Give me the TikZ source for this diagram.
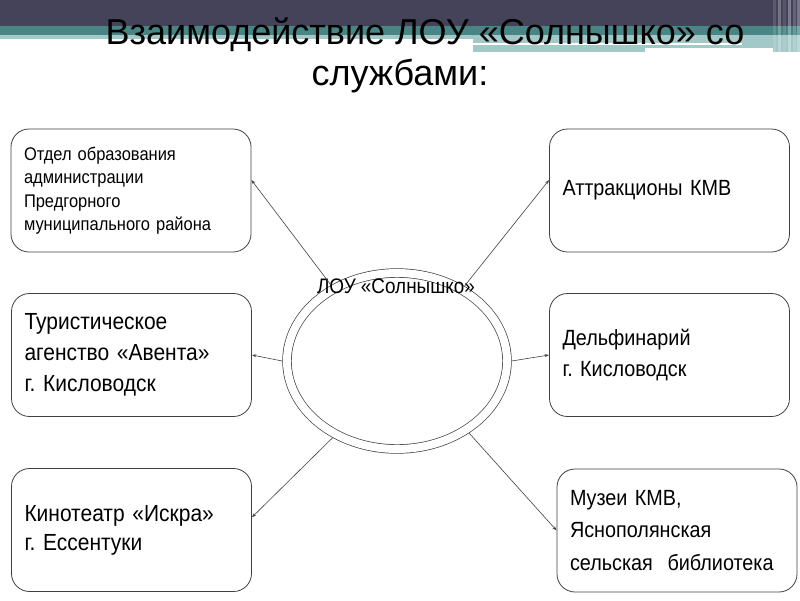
\documentclass[tikz,border=0pt]{standalone}
\usepackage{fontspec}
\setmainfont{Liberation Sans}
\newfontfamily\narrowsans{Liberation Sans}[FakeStretch=0.9]
\usepackage{tikz}
\usetikzlibrary{arrows.meta,shapes.geometric}

\definecolor{bandDark}{RGB}{68,67,90}
\definecolor{bandTeal}{RGB}{74,133,133}
\definecolor{bandLight}{RGB}{163,200,200}
\definecolor{lineGray}{RGB}{64,64,64}
\frenchspacing

\begin{document}
\begin{tikzpicture}[x=1pt,y=-1pt,
  every node/.style={text=black},
  unit/.style={draw=lineGray,line width=0.8pt,rounded corners=18pt,
    minimum height=123pt,text width=214pt,inner xsep=13pt,align=left,
    font=\narrowsans\fontsize{22}{31}\selectfont},
  link/.style={-{Stealth[length=4.5pt,width=3pt]},draw=lineGray,line width=0.6pt}]
  \useasboundingbox (0,0) rectangle (800,600);
  % slide header bands
  \fill[bandDark] (0,0) rectangle (800,26);
  \fill[bandTeal] (0,26) rectangle (800,35);
  \fill[bandLight] (0,35) rectangle (800,39);
  \fill[bandLight] (473,39) rectangle (800,52);
  \fill[white] (473,43) rectangle (742,45);
  \fill[white] (645,48) rectangle (773,53);
  \foreach \x/\o in {773/12,778/25,783/10,788/30,793/18,797/28}
    \fill[white,opacity=0.\o] (\x,0) rectangle (\x+2.5,52);
  \node[anchor=north,inner sep=0pt,align=center,
    font=\fontsize{36}{41}\selectfont] (title) at (425,17.5)
    {Взаимодействие ЛОУ «Солнышко» со\\\hspace*{-50pt}службами:};
  % centre
  \node[draw=lineGray,ellipse,line width=0.7pt,double,double distance=8pt,
    inner sep=0pt,outer sep=4.7pt,minimum width=220pt,minimum height=176pt] (sun) at (397,361) {};
  \node[font=\narrowsans\fontsize{21}{23}\selectfont] (sunname) at (396,286) {ЛОУ «Солнышко»};
  % partners
  \node[unit,font=\narrowsans\fontsize{18.3}{23.5}\selectfont] (edu) at (131,190.5)
    {Отдел образования администрации Предгорного муниципального района};
  \node[unit,font=\narrowsans\fontsize{23.3}{31}\selectfont] (tour) at (131.5,355)
    {Туристическое\\агенство «Авента»\\г. Кисловодск};
  \node[unit,font=\narrowsans\fontsize{23.3}{29}\selectfont] (cinema) at (131.5,530)
    {Кинотеатр «Искра»\\г. Ессентуки};
  \node[unit] (rides) at (669.5,190.5) {Аттракционы КМВ};
  \node[unit] (dolphin) at (669.5,355) {Дельфинарий\\г. Кисловодск};
  \node[unit,font=\narrowsans\fontsize{22}{32.5}\selectfont] (museum) at (677,530.5)
    {Музеи КМВ,\\Яснополянская\\сельская~ библиотека};
  \draw[link] (sun.131) -- (edu.5);
  \draw[link] (sun.west) -- (tour.east);
  \draw[link] (sun.230) -- (cinema.6);
  \draw[link] (sun.48) -- (rides.175);
  \draw[link] (sun.east) -- (dolphin.west);
  \draw[link] (sun.315) -- (museum.west);
\end{tikzpicture}
\end{document}
